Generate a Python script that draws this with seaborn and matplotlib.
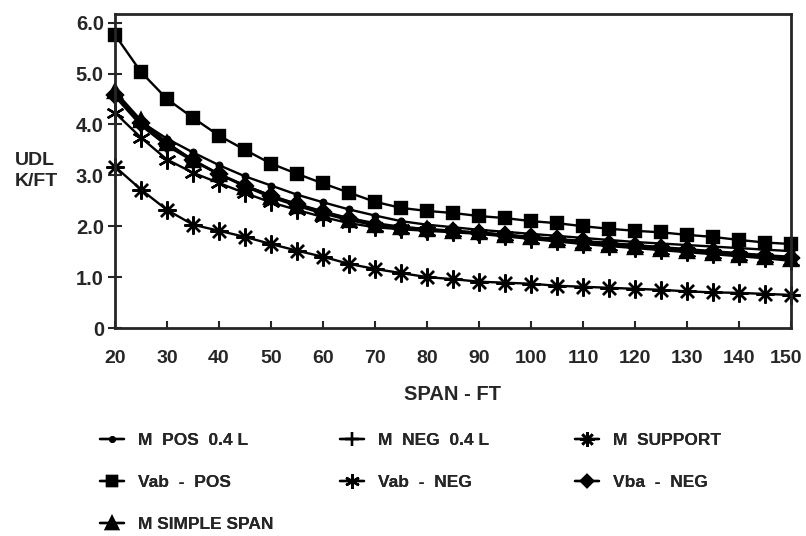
import matplotlib
matplotlib.use("Agg")
import matplotlib.pyplot as plt
import matplotlib.transforms as mtransforms
import seaborn as sns
import numpy as np
import pandas as pd
from matplotlib.lines import Line2D

span = [20, 25, 30, 35, 40, 45, 50, 55, 60, 65, 70, 75, 80, 85, 90, 95, 100,
        105, 110, 115, 120, 125, 130, 135, 140, 145, 150]

m_pos = [4.60, 4.05, 3.72, 3.45, 3.20, 2.98, 2.80, 2.62, 2.47, 2.33, 2.21, 2.10, 2.03,
         1.98, 1.93, 1.89, 1.85, 1.81, 1.77, 1.73, 1.69, 1.66, 1.63, 1.60, 1.57, 1.54, 1.51]
m_neg = [4.55, 3.98, 3.58, 3.28, 3.02, 2.80, 2.60, 2.44, 2.29, 2.16, 2.06, 1.99, 1.94,
         1.90, 1.87, 1.83, 1.79, 1.75, 1.71, 1.67, 1.63, 1.59, 1.55, 1.51, 1.47, 1.43, 1.40]
m_support = [3.17, 2.72, 2.32, 2.03, 1.91, 1.79, 1.65, 1.52, 1.40, 1.26, 1.16, 1.08, 1.00,
             0.96, 0.91, 0.89, 0.87, 0.83, 0.81, 0.79, 0.77, 0.75, 0.72, 0.70, 0.69, 0.67, 0.65]
vab_pos = [5.76, 5.03, 4.50, 4.13, 3.78, 3.50, 3.23, 3.03, 2.84, 2.66, 2.48, 2.36, 2.30,
           2.26, 2.20, 2.16, 2.10, 2.06, 2.00, 1.95, 1.91, 1.88, 1.83, 1.79, 1.73, 1.68, 1.65]
vab_neg = [4.23, 3.74, 3.31, 3.05, 2.85, 2.65, 2.47, 2.32, 2.18, 2.06, 1.98, 1.94, 1.91,
           1.88, 1.85, 1.80, 1.75, 1.70, 1.65, 1.61, 1.57, 1.53, 1.49, 1.45, 1.41, 1.37, 1.32]
vba_neg = [4.58, 4.02, 3.62, 3.30, 3.03, 2.80, 2.60, 2.43, 2.28, 2.14, 2.03, 1.97, 1.93,
           1.90, 1.87, 1.83, 1.79, 1.74, 1.70, 1.66, 1.62, 1.58, 1.54, 1.50, 1.46, 1.42, 1.38]
m_simple = [4.65, 4.08, 3.64, 3.30, 3.02, 2.78, 2.57, 2.40, 2.25, 2.12, 2.02, 1.98, 1.95,
            1.91, 1.88, 1.83, 1.78, 1.73, 1.68, 1.64, 1.60, 1.56, 1.52, 1.48, 1.44, 1.40, 1.36]

labels = ["M  POS  0.4 L", "M  NEG  0.4 L", "M  SUPPORT", "Vab  -  POS",
          "Vab  -  NEG", "Vba  -  NEG", "M SIMPLE SPAN"]
series = [m_pos, m_neg, m_support, vab_pos, vab_neg, vba_neg, m_simple]
markers = ["o", "+", (8, 2, 0), "s", (6, 2, 0), "D", "^"]
msizes = [4, 12, 13, 9, 13, 8, 10]

xticks = [20, 30, 40, 50, 60, 70, 80, 90, 100, 110, 120, 130, 140, 150]
yticks = [0, 1, 2, 3, 4, 5, 6]
yticklabels = ["0", "1.0", "2.0", "3.0", "4.0", "5.0", "6.0"]

sns.set_style("ticks")
plt.rcParams["font.family"] = ["Liberation Sans", "DejaVu Sans"]
plt.rcParams["font.weight"] = "bold"

fig = plt.figure(figsize=(8.06, 5.36), dpi=100)
ax = fig.add_axes([115 / 806, 1 - 328 / 536, (791 - 115) / 806, (328 - 14) / 536])

for lab, vals, mk, ms in zip(labels, series, markers, msizes):
    df = pd.DataFrame({"span": span, "udl": vals})
    sns.lineplot(data=df, x="span", y="udl", ax=ax, color="black", linewidth=1.7,
                 marker=mk, markersize=ms, markeredgecolor="black",
                 markerfacecolor="black", markeredgewidth=1.7, clip_on=False,
                 label=lab, legend=False)

ax.set_xlim(20, 150)
ax.set_ylim(0, 6.17)
ax.set_xticks(xticks)
ax.set_xticklabels([str(t) for t in xticks], fontsize=14, fontweight="bold")
ax.set_yticks(yticks)
ax.set_yticklabels(yticklabels, fontsize=14.5, fontweight="bold")
ax.tick_params(axis="x", direction="in", length=5, width=1.5, pad=16)
ax.tick_params(axis="y", direction="inout", length=10, width=1.5, pad=3)
# nudge the last x tick label so it stays inside the figure
last = ax.get_xticklabels()[-1]
last.set_transform(last.get_transform() +
                   mtransforms.ScaledTranslation(-5 / 100, 0, fig.dpi_scale_trans))
for s in ax.spines.values():
    s.set_linewidth(2)
    s.set_visible(True)
ax.set_xlabel("SPAN - FT", fontsize=14.5, fontweight="bold", labelpad=13)
ax.set_ylabel("")
fig.text(15 / 806, 1 - 171 / 536, "UDL\nK/FT", fontsize=14, fontweight="bold",
         ha="left", va="center", linespacing=1.25)


def handle_for(lab):
    i = labels.index(lab)
    return Line2D([], [], color="black", linewidth=1.7, marker=markers[i],
                  markersize=msizes[i] * 0.8, markeredgewidth=1.7,
                  markerfacecolor="black", markeredgecolor="black")


columns = [(["M  POS  0.4 L", "Vab  -  POS", "M SIMPLE SPAN"], 93),
           (["M  NEG  0.4 L", "Vab  -  NEG"], 333),
           (["M  SUPPORT", "Vba  -  NEG"], 568)]
for labs, xpx in columns:
    leg = fig.legend([handle_for(l) for l in labs], labs, loc="upper left",
                     bbox_to_anchor=(xpx / 806, 1 - 426 / 536),
                     ncol=1, frameon=False, prop={"size": 12.5, "weight": "bold"},
                     handlelength=1.4, handletextpad=0.8,
                     labelspacing=1.55, borderaxespad=0)
    fig.add_artist(leg)

fig.savefig("out.png", dpi=100)
